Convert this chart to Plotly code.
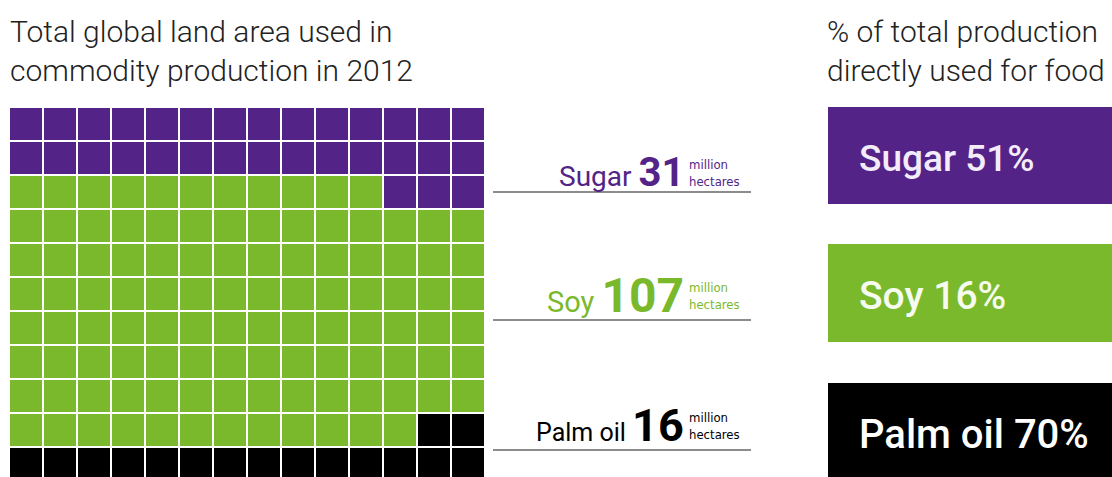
import math
import plotly.graph_objects as go

# ---------------- data ----------------
categories = ["Sugar", "Soy", "Palm oil"]
land_mha = [31, 107, 16]          # million hectares
food_pct = [51, 16, 70]           # % of total production directly used for food
grid_cols = 14
unit_label = "million<br>hectares"
left_title = "Total global land area used in<br>commodity production in 2012"
right_title = "% of total production<br>directly used for food"

# ---------------- style ----------------
colors = ["#532388", "#7bb92c", "#000000"]
W, H = 1112, 477
FONT = "Roboto, 'Noto Sans', sans-serif"
SMALLFONT = "'DejaVu Sans Condensed', Roboto, sans-serif"

def px(x):
    return x / W

def py(y):
    return 1 - y / H

# ---------------- waffle matrix ----------------
total = sum(land_mha)
n_rows = math.ceil(total / grid_cols)
z = [[1] * grid_cols for _ in range(n_rows)]
full, rem = divmod(land_mha[0], grid_cols)
for r in range(full):
    z[r] = [0] * grid_cols
for c in range(grid_cols - rem, grid_cols):
    z[full][c] = 0
full, rem = divmod(land_mha[2], grid_cols)
for r in range(n_rows - full, n_rows):
    z[r] = [2] * grid_cols
for c in range(grid_cols - rem, grid_cols):
    z[n_rows - full - 1][c] = 2

cell = 34
x0_px, y0_px = 9, 107
colorscale = [[0, colors[0]], [1 / 3, colors[0]], [1 / 3, colors[1]],
              [2 / 3, colors[1]], [2 / 3, colors[2]], [1, colors[2]]]

fig = go.Figure()
fig.add_trace(go.Heatmap(
    z=z, x=list(range(grid_cols)), y=list(range(n_rows)),
    colorscale=colorscale, zmin=0, zmax=2, showscale=False,
    xgap=2, ygap=2, hoverinfo="skip"))

cx0 = x0_px + cell / 2
cy0 = y0_px + cell / 2
x_range = [(0 - cx0) / cell, (W - cx0) / cell]
y_range = [(H - cy0) / cell, (0 - cy0) / cell]

shapes = []
annotations = []

def ann(**kw):
    kw.setdefault("xref", "paper")
    kw.setdefault("yref", "paper")
    kw.setdefault("showarrow", False)
    annotations.append(kw)

# titles
ann(text=left_title, x=px(8), y=py(12), xanchor="left", yanchor="top", align="left",
    font=dict(family=FONT, size=30, color="#222222", weight=300))
ann(text=right_title, x=px(825), y=py(12), xanchor="left", yanchor="top", align="left",
    font=dict(family=FONT, size=30, color="#222222", weight=300))

# left labels
label_line_y = [192, 320, 450]
label_center_y = [172, 295, 425]
word_sizes = [28, 29, 25]
num_sizes = [40, 48, 45]
for i, cat in enumerate(categories):
    yl = label_line_y[i]
    shapes.append(dict(type="line", xref="paper", yref="paper",
                       x0=px(493), x1=px(751), y0=py(yl), y1=py(yl),
                       line=dict(color="#666666", width=1.5)))
    txt = (f"{cat} <span style=\"font-weight:bold;"
           f"font-size:{num_sizes[i]}px\">{land_mha[i]}</span>")
    ann(text=txt, x=px(686), y=py(label_center_y[i]), xanchor="right", yanchor="middle",
        font=dict(family=FONT, size=word_sizes[i], color=colors[i], weight=400))
    ann(text=unit_label, x=px(687), y=py(label_center_y[i] + 1), xanchor="left",
        yanchor="middle", align="left",
        font=dict(family=SMALLFONT, size=13, color=colors[i]))

# right boxes
box_y = [(107, 204), (244, 342), (383, 490)]
box_text_y = [158, 296, 434]
box_sizes = [37, 39, 40]
text_colors = ["#f3ecfa", "#f5fbee", "#ffffff"]
for i, cat in enumerate(categories):
    y_top, y_bot = box_y[i]
    shapes.append(dict(type="rect", xref="paper", yref="paper",
                       x0=px(828), x1=1.0, y0=py(y_bot), y1=py(y_top),
                       fillcolor=colors[i], line=dict(width=0), layer="above"))
    ann(text=f"{cat} {food_pct[i]}%", x=px(857), y=py(box_text_y[i]),
        xanchor="left", yanchor="middle",
        font=dict(family=FONT, size=box_sizes[i], color=text_colors[i], weight=500))

fig.update_layout(
    width=W, height=H, margin=dict(l=0, r=0, t=0, b=0),
    paper_bgcolor="white", plot_bgcolor="white",
    xaxis=dict(range=x_range, visible=False, showgrid=False, zeroline=False, fixedrange=True),
    yaxis=dict(range=y_range, visible=False, showgrid=False, zeroline=False, fixedrange=True),
    shapes=shapes, annotations=annotations, showlegend=False)

fig.write_html("out.html")
